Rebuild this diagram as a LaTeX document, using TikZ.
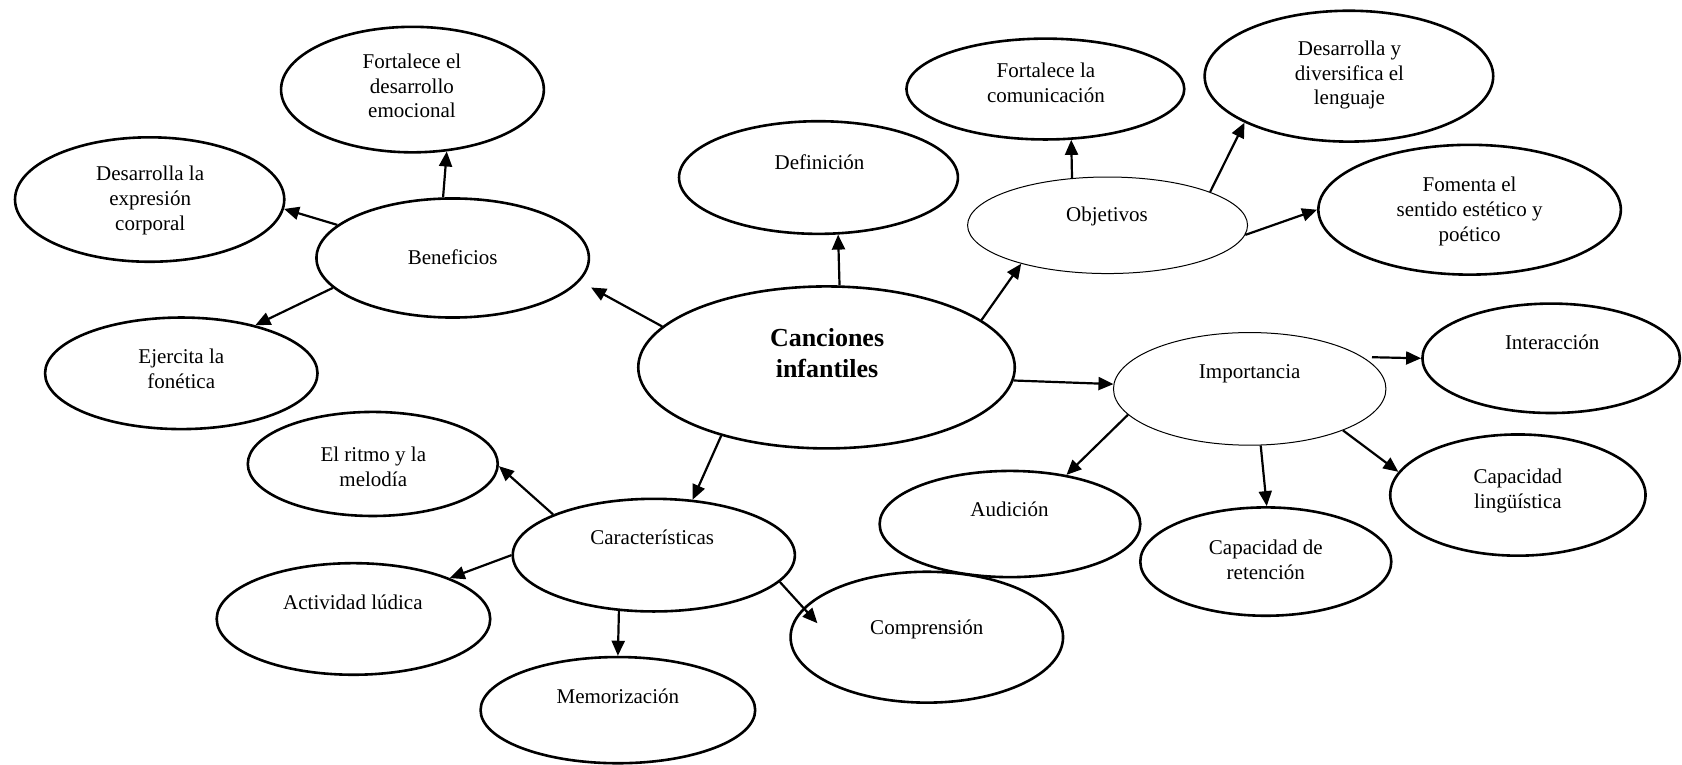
\documentclass[tikz,border=0pt]{standalone}
\usepackage{fontspec}
\setmainfont{Liberation Serif}
\usetikzlibrary{shapes.geometric,arrows.meta}

\begin{document}
\begin{tikzpicture}[x=0.53635pt,y=-0.53635pt,
    bubble/.style={ellipse,draw,line width=1.3pt,inner sep=0pt},
    thin bubble/.style={ellipse,draw,line width=0.5pt,inner sep=0pt},
    dims/.style 2 args={minimum width=#1*0.53635pt,minimum height=#2*0.53635pt},
    txt/.style={align=center,inner sep=0pt,font=\fontsize{10.5}{12.4}\selectfont},
    main txt/.style={align=center,inner sep=0pt,font=\bfseries\fontsize{13}{15.5}\selectfont},
    link/.style={-{Triangle[length=7.5pt,width=6.5pt]},line width=1.1pt}]
    \useasboundingbox (0,0) rectangle (1568,713);

    % ellipses
    \node[bubble,dims={351}{151}] at (770.5,342.5) (canc) {};
    \node[bubble,dims={260}{105}] at (763,165.5) (defin) {};
    \node[bubble,dims={254}{111}] at (422,240.5) (benef) {};
    \node[bubble,dims={245}{117}] at (384.5,83.5) (emoc) {};
    \node[bubble,dims={251}{116}] at (139.5,186) (expr) {};
    \node[bubble,dims={254}{104}] at (169,348) (fonet) {};
    \node[thin bubble,dims={261}{90}] at (1032.5,210) (objet) {};
    \node[bubble,dims={259}{94}] at (974.5,83) (comun) {};
    \node[bubble,dims={269}{122}] at (1257.5,71) (lengu) {};
    \node[bubble,dims={282}{121}] at (1370,195.5) (poet) {};
    \node[thin bubble,dims={254}{105}] at (1165,362.5) (impor) {};
    \node[bubble,dims={240}{102}] at (1446,334) (inter) {};
    \node[bubble,dims={238}{113}] at (1415,461.5) (lingu) {};
    \node[bubble,dims={234}{101}] at (1180,523.5) (reten) {};
    \node[bubble,dims={243}{99}] at (941.5,488.5) (audic) {};
    \node[bubble,dims={263}{105}] at (609.5,517.5) (caract) {};
    \node[bubble,dims={233}{97}] at (347.5,432.5) (ritmo) {};
    \node[bubble,dims={255}{104}] at (329.5,577) (ludic) {};
    \node[bubble,dims={256}{99}] at (576,662) (memor) {};
    \node[bubble,dims={254}{122}] at (864,594) (compr) {};

    % texts
    \node[main txt] at (771,329.5) (canc-t) {Canciones\\infantiles};
    \node[txt] at (764,151) (defin-t) {Definición};
    \node[txt] at (422,240) (benef-t) {Beneficios};
    \node[txt] at (384,80) (emoc-t) {Fortalece el\\desarrollo\\emocional};
    \node[txt] at (140,187) (expr-t) {Desarrolla la\\expresión\\corporal};
    \node[txt] at (169,343.5) (fonet-t) {Ejercita la\\fonética};
    \node[txt] at (1032,202) (objet-t) {Objetivos};
    \node[txt] at (975,77.5) (comun-t) {Fortalece la\\comunicación};
    \node[txt] at (1258,70) (lengu-t) {Desarrolla y\\diversifica el\\lenguaje};
    \node[txt] at (1370,197) (poet-t) {Fomenta el\\sentido estético y\\poético};
    \node[txt] at (1165,348) (impor-t) {Importancia};
    \node[txt] at (1447,319) (inter-t) {Interacción};
    \node[txt] at (1415,457.5) (lingu-t) {Capacidad\\lingüística};
    \node[txt] at (1180,521.5) (reten-t) {Capacidad de\\retención};
    \node[txt] at (941,475) (audic-t) {Audición};
    \node[txt] at (608,501) (caract-t) {Características};
    \node[txt] at (348,435.5) (ritmo-t) {El ritmo y la\\melodía};
    \node[txt] at (329,561) (ludic-t) {Actividad lúdica};
    \node[txt] at (576,649) (memor-t) {Memorización};
    \node[txt] at (864,587) (compr-t) {Comprensión};

    % arrows
    \draw[link] (canc.166) -- ([shift={(129,27.5)}]benef.center);
    \draw[link] (benef.99) -- (emoc.-61);
    \draw[link] (benef.164) -- (expr.-4);
    \draw[link] (benef.194) -- (fonet.33);
    \draw[link] (canc.81) -- (defin.-71);
    \draw[link] (canc.17) -- (objet.-156);
    \draw[link] (objet.127) -- (comun.-63);
    \draw[link] (objet.18) -- (lengu.-156);
    \draw[link] (objet.-4) -- (poet.180);
    \draw[link] (canc.-4) -- (impor.178);
    \draw[link] ([shift={(114,-29.5)}]impor.center) -- (inter.180);
    \draw[link] (impor.192) -- (audic.41);
    \draw[link] (impor.-79) -- (reten.89);
    \draw[link] (impor.-24) -- (lingu.169);
    \draw[link] (canc.-147) -- (caract.55);
    \draw[link] (caract.158) -- (ritmo.-1);
    \draw[link] (caract.180) -- (ludic.23);
    \draw[link] (caract.-122) -- (memor.90);
    \draw[link] (caract.-12) -- ([shift={(-102,-13)}]compr.center);
\end{tikzpicture}
\end{document}
